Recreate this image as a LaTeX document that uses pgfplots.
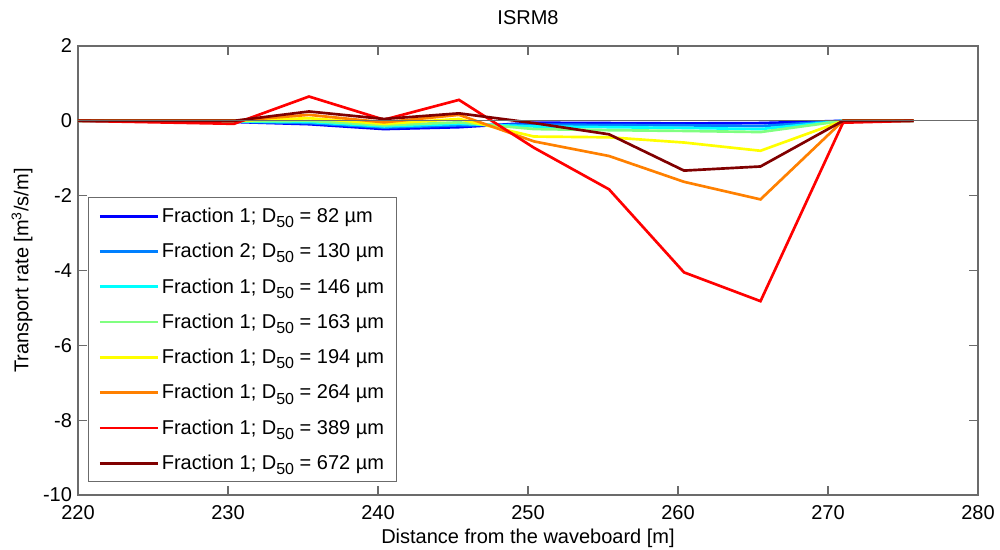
\documentclass[border=0pt]{standalone}
\usepackage{pgfplots}
\pgfplotsset{compat=1.18}
\usepackage{fontspec}
\setmainfont{Liberation Sans}
\definecolor{axgray}{gray}{0.42}
\definecolor{c1}{rgb}{0,0,1}
\definecolor{c2}{rgb}{0,0.5,1}
\definecolor{c3}{rgb}{0,1,1}
\definecolor{c4}{rgb}{0.5,1,0.5}
\definecolor{c5}{rgb}{1,1,0}
\definecolor{c6}{rgb}{1,0.5,0}
\definecolor{c7}{rgb}{1,0,0}
\definecolor{c8}{rgb}{0.5,0,0}
\newcommand{\Dfifty}{D\raisebox{-0.5ex}{\fontsize{12}{12}\selectfont 50}}
\begin{document}
\begin{tikzpicture}
\begin{axis}[
  scale only axis, width=675pt, height=336.75pt,
  xmin=220, xmax=280, ymin=-10, ymax=2,
  xtick={220,230,...,280},
  xticklabels={220,230,240,250,260,270,280},
  ytick={-10,-8,...,2},
  yticklabels={-10,-8,-6,-4,-2,0,2},
  /pgf/number format/assume math mode=true,
  font=\fontsize{15}{17}\selectfont,
  axis line style={axgray, line width=0.8pt},
  tick style={axgray, line width=0.8pt},
  tick align=inside, major tick length=6.75pt,
  xtick pos=both, ytick pos=both,
  xticklabel style={yshift=-4pt},
  yticklabel style={xshift=-1pt},
  every axis title shift=0pt,
  title={ISRM8},
  title style={at={(0.5,1.0624)}, anchor=center},
  xlabel={Distance from the waveboard [m]},
  xlabel style={at={(rel axis cs:0.5,-0.0958)}, anchor=center},
  ylabel={Transport rate [m\textsuperscript{3}/s/m]},
  ylabel style={at={(rel axis cs:-0.0622,0.5)}, anchor=center},
  every axis plot/.append style={line width=2pt, line join=miter},
  legend cell align=left,
  legend style={at={(0,0)}, anchor=south west, xshift=7.5pt, yshift=9.75pt,
    draw=axgray, fill=white, line width=0.8pt, font=\fontsize{15}{17}\selectfont,
    inner xsep=7.5pt, inner ysep=5.5pt, row sep=10.1pt},
  legend image code/.code={\draw[#1, line width=2pt] (0pt,0pt) -- (43.5pt,0pt);},
]
\addplot[c1] coordinates {(220,0) (230.4,-0.03) (235.4,-0.09) (240.4,-0.22) (245.4,-0.17) (250.4,-0.05) (255.4,-0.06) (260.4,-0.07) (265.5,-0.06) (271,0) (275.7,0)};
\addlegendentry{Fraction 1; \Dfifty{} = 82 µm}
\addplot[c2] coordinates {(220,0) (230.4,-0.02) (235.4,-0.06) (240.4,-0.18) (245.4,-0.12) (250.4,-0.10) (255.4,-0.11) (260.4,-0.12) (265.5,-0.14) (271,0) (275.7,0)};
\addlegendentry{Fraction 2; \Dfifty{} = 130 µm}
\addplot[c3] coordinates {(220,0) (230.4,-0.02) (235.4,-0.03) (240.4,-0.15) (245.4,-0.08) (250.4,-0.15) (255.4,-0.17) (260.4,-0.19) (265.5,-0.22) (271,0) (275.7,0)};
\addlegendentry{Fraction 1; \Dfifty{} = 146 µm}
\addplot[c4] coordinates {(220,0) (230.4,-0.01) (235.4,0.0) (240.4,-0.12) (245.4,-0.04) (250.4,-0.22) (255.4,-0.25) (260.4,-0.27) (265.5,-0.30) (271,0) (275.7,0)};
\addlegendentry{Fraction 1; \Dfifty{} = 163 µm}
\addplot[c5] coordinates {(220,0) (230.4,0) (235.4,0.07) (240.4,-0.08) (245.4,0.05) (250.4,-0.42) (255.4,-0.44) (260.4,-0.58) (265.5,-0.80) (271,0) (275.7,0)};
\addlegendentry{Fraction 1; \Dfifty{} = 194 µm}
\addplot[c6] coordinates {(220,0) (230.4,0) (235.4,0.16) (240.4,-0.04) (245.4,0.16) (250.4,-0.55) (255.4,-0.94) (260.4,-1.63) (265.5,-2.10) (271,0) (275.7,0)};
\addlegendentry{Fraction 1; \Dfifty{} = 264 µm}
\addplot[c7] coordinates {(220,0) (230.4,-0.08) (235.4,0.65) (240.4,0.03) (245.4,0.56) (250.4,-0.72) (255.4,-1.83) (260.4,-4.05) (265.5,-4.82) (271,-0.05) (275.7,0)};
\addlegendentry{Fraction 1; \Dfifty{} = 389 µm}
\addplot[c8] coordinates {(220,0) (230.4,0) (235.4,0.25) (240.4,0.05) (245.4,0.20) (250.4,-0.06) (255.4,-0.36) (260.4,-1.33) (265.5,-1.22) (271,0) (275.7,0)};
\addlegendentry{Fraction 1; \Dfifty{} = 672 µm}
\addplot[axgray, line width=0.8pt, forget plot] coordinates {(220,0) (280,0)};
\node[anchor=west, inner sep=0pt, font=\fontsize{15}{17}\selectfont] at (rel axis cs:0,1.034) {x 10\textsuperscript{-6}};
\end{axis}
\pgfresetboundingbox
\path[use as bounding box] (-58.5pt,-41.25pt) rectangle (691.5pt,371.25pt);
\end{tikzpicture}
\end{document}
